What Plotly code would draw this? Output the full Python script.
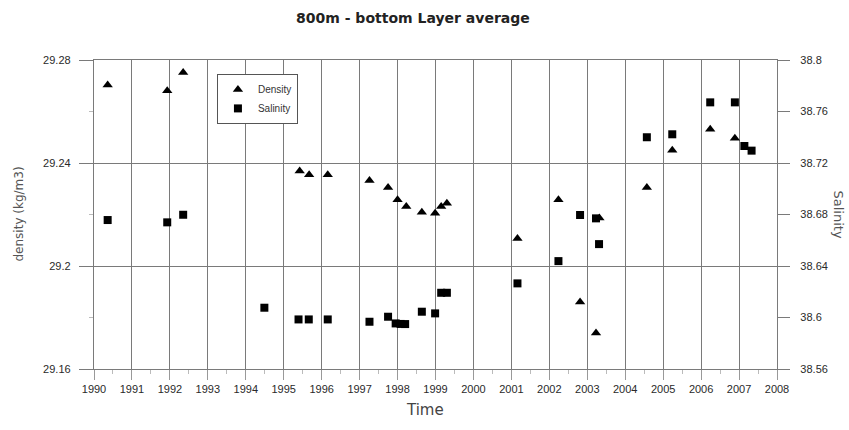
import plotly.graph_objects as go

# Bottom-layer (800 m to bottom) averages per survey
density_time = [1990.36, 1991.93, 1992.35, 1994.49, 1995.42, 1995.67, 1996.16,
                1997.26, 1997.75, 1998.00, 1998.23, 1998.64, 1998.99, 1999.15,
                1999.30, 2001.16, 2002.24, 2002.81, 2003.23, 2003.32, 2004.57,
                2005.24, 2006.24, 2006.89]
density = [29.2703, 29.2681, 29.2751, 29.2630, 29.2369, 29.2354, 29.2354,
           29.2332, 29.2305, 29.2257, 29.2231, 29.2209, 29.2205, 29.2231,
           29.2244, 29.2107, 29.2257, 29.1860, 29.1740, 29.2186, 29.2305,
           29.2450, 29.2531, 29.2496]

salinity_time = [1990.36, 1991.93, 1992.35, 1994.49, 1995.39, 1995.66, 1996.16,
                 1997.26, 1997.75, 1997.95, 1998.08, 1998.20, 1998.64, 1998.99,
                 1999.15, 1999.30, 2001.16, 2002.24, 2002.81, 2003.23, 2003.31,
                 2004.57, 2005.24, 2006.24, 2006.89, 2007.14, 2007.33]
salinity = [38.6757, 38.6739, 38.6798, 38.6076, 38.5985, 38.5985, 38.5985,
            38.5967, 38.6006, 38.5954, 38.5950, 38.5949, 38.6045, 38.6032,
            38.6192, 38.6192, 38.6265, 38.6438, 38.6796, 38.6770, 38.6570,
            38.7400, 38.7423, 38.7671, 38.7671, 38.7332, 38.7296]

year_ticks = list(range(1990, 2009))
density_ticks = [29.16, 29.2, 29.24, 29.28]
density_labels = ["29.16", "29.2", "29.24", "29.28"]
salinity_ticks = [38.56, 38.6, 38.64, 38.68, 38.72, 38.76, 38.8]
salinity_labels = ["38.56", "38.6", "38.64", "38.68", "38.72", "38.76", "38.8"]

GRID = "#7a7a7a"
TICKFONT = dict(family="Liberation Sans", size=11, color="#2a2a2a")

fig = go.Figure()
fig.add_trace(go.Scatter(
    x=density_time, y=density, mode="markers", name="Density",
    marker=dict(symbol="triangle-up", size=9, color="black"),
    yaxis="y"))
fig.add_trace(go.Scatter(
    x=salinity_time, y=salinity, mode="markers", name="Salinity",
    marker=dict(symbol="square", size=8, color="black"),
    yaxis="y2"))

fig.update_layout(
    width=849, height=430,
    margin=dict(l=94, r=72, t=60, b=61),
    paper_bgcolor="white", plot_bgcolor="white",
    font=dict(family="Liberation Sans", color="#333333"),
    showlegend=True,
    legend=dict(
        x=0.18, y=0.955, xanchor="left", yanchor="top",
        bgcolor="white", bordercolor="#555555", borderwidth=1,
        font=dict(size=10, color="#333333"),
        itemwidth=30, tracegroupgap=0,
    ),
    xaxis=dict(
        range=[1990, 2008], tickvals=year_ticks,
        ticktext=[str(y) for y in year_ticks],
        showgrid=True, gridcolor=GRID, gridwidth=1.3,
        showline=True, linecolor=GRID, linewidth=1.3, mirror=True,
        ticks="outside", ticklen=10, tickcolor="#999999",
        minor=dict(ticks="outside", ticklen=4, dtick=0.5, tickcolor="#bbbbbb",
                   showgrid=False),
        tickfont=TICKFONT, zeroline=False,
    ),
    yaxis=dict(
        range=[29.16, 29.28], tickvals=density_ticks, ticktext=density_labels,
        showgrid=True, gridcolor=GRID, gridwidth=1.3,
        showline=True, linecolor=GRID, linewidth=1.3,
        ticks="outside", ticklen=14, tickcolor=GRID,
        minor=dict(ticks="outside", ticklen=4, dtick=0.02, tickcolor="#bbbbbb",
                   showgrid=False),
        tickfont=TICKFONT, zeroline=False, ticklabelstandoff=6,
    ),
    yaxis2=dict(
        range=[38.56, 38.8], tickvals=salinity_ticks, ticktext=salinity_labels,
        overlaying="y", side="right", showgrid=False,
        showline=True, linecolor=GRID, linewidth=1.3,
        ticks="outside", ticklen=12, tickcolor=GRID,
        tickfont=TICKFONT, zeroline=False, ticklabelstandoff=8,
    ),
    annotations=[
        dict(text="<b>800m - bottom Layer average</b>", xref="paper", yref="paper",
             x=0.467, y=1.0, yshift=42, xanchor="center", yanchor="middle",
             showarrow=False, font=dict(family="DejaVu Sans", size=14, color="#222222")),
        dict(text="Time", xref="paper", yref="paper", x=0.485, y=0, yshift=-41,
             xanchor="center", yanchor="middle", showarrow=False,
             font=dict(family="DejaVu Sans", size=15, color="#444444")),
        dict(text="density (kg/m3)", xref="paper", yref="paper", x=0, xshift=-76,
             y=0.5, textangle=-90, xanchor="center", yanchor="middle",
             showarrow=False, font=dict(family="DejaVu Sans", size=12, color="#555555")),
        dict(text="Salinity", xref="paper", yref="paper", x=1, xshift=61,
             y=0.5, textangle=90, xanchor="center", yanchor="middle",
             showarrow=False, font=dict(family="DejaVu Sans", size=13, color="#555555")),
    ],
)

fig.write_html("out.html")
